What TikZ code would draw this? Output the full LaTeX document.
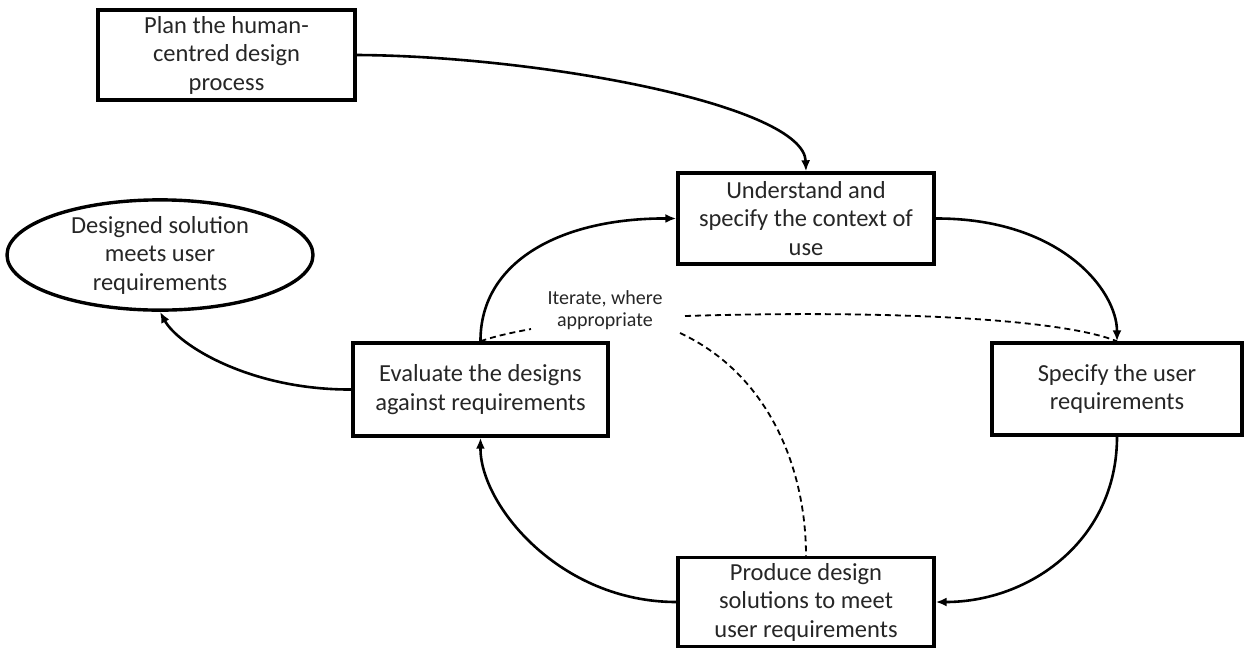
\documentclass[tikz,border=0pt]{standalone}
\usepackage{fontspec}
\setmainfont{Carlito}
\usetikzlibrary{arrows.meta,shapes.geometric}
\definecolor{ink}{HTML}{262626}
\tikzset{
  stepbox/.style={draw=black, line width=3.4pt, rectangle, align=center,
    text=ink, font=\fontsize{24.5}{28.5}\selectfont, inner sep=0pt},
  goalshape/.style={draw=black, line width=3.4pt, ellipse, align=center,
    text=ink, font=\fontsize{24.5}{28.5}\selectfont, inner sep=0pt},
  flow/.style={line width=2.6pt, -{Latex[length=11pt,width=9pt]}},
  iterline/.style={line width=1.8pt, dash pattern=on 6pt off 4pt},
}
\begin{document}
\begin{tikzpicture}[x=1pt,y=-1pt]
\useasboundingbox (0,0) rectangle (1245,649);

% process steps
\node[stepbox, minimum width=257pt, minimum height=90pt] (plan) at (226.5,55)
  {Plan the human-\\centred design\\process};
\node[stepbox, minimum width=256pt, minimum height=91pt] (und) at (806,218.5)
  {Understand and\\specify the context of\\use};
\node[stepbox, minimum width=255pt, minimum height=93pt] (eval) at (480.5,389.5)
  {Evaluate the designs\\against requirements};
\node[stepbox, minimum width=250pt, minimum height=92pt] (spec) at (1117,389)
  {Specify the user\\requirements};
\node[stepbox, minimum width=256pt, minimum height=89pt] (prod) at (806,602)
  {Produce design\\solutions to meet\\user requirements};
\node[goalshape, minimum width=306pt, minimum height=106pt] (goal) at (160,255)
  {Designed solution\\meets user\\requirements};

% iteration label
\node[text=ink, align=center, font=\fontsize{20}{22}\selectfont] (iter) at (605,310)
  {Iterate, where\\appropriate};
\coordinate (itA) at (531,329);
\coordinate (itB) at (685,316);
\coordinate (itC) at (680,333);

% main cycle
\draw[flow] (plan.east) .. controls (540,56) and (804,105) .. (und.north);
\draw[flow] (eval.north) .. controls (480,262) and (560,218) .. (und.west);
\draw[flow] (und.east) .. controls (1060,218) and (1117,290) .. (spec.north);
\draw[flow] (spec.south) .. controls (1117,540) and (1030,602) .. (prod.east);
\draw[flow] (prod.west) .. controls (560,602) and (480,505) .. (eval.south);
\draw[flow] (eval.west) .. controls (250,390) and (178,345) .. (goal.south);

% iteration paths
\draw[iterline] (eval.north) .. controls (495,336) and (515,332) .. (itA);
\draw[iterline] (itB) .. controls (880,310) and (1060,318) .. (spec.north);
\draw[iterline] (itC) .. controls (770,375) and (806,470) .. (prod.north);
\end{tikzpicture}
\end{document}
